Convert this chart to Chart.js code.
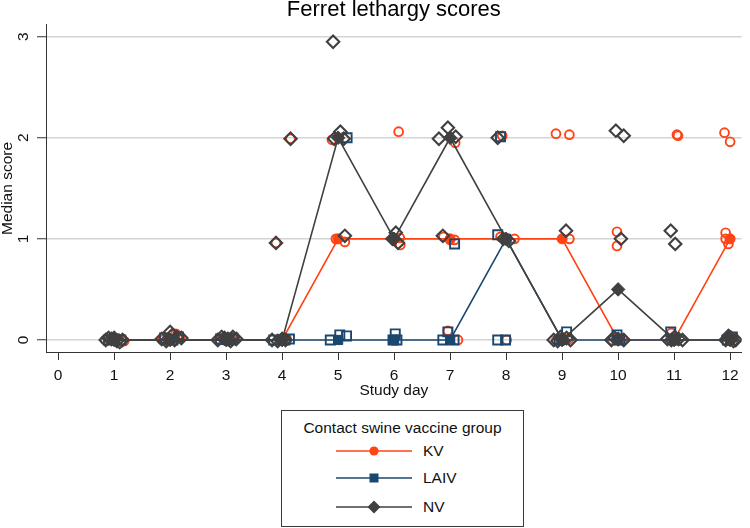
<!DOCTYPE html>
<html>
<head>
<meta charset="utf-8">
<title>Ferret lethargy scores</title>
<script src="https://cdn.jsdelivr.net/npm/chart.js@4.4.1/dist/chart.umd.min.js"></script>
<style>
  body { margin: 0; background: #fff; font-family: "Liberation Sans", Arial, sans-serif; }
  #wrap { position: relative; width: 750px; height: 528px; }
  #chartBox { position: absolute; left: 0; top: 0; width: 750px; height: 402px; }
  #legend { position: absolute; left: 281px; top: 410px; width: 241px; height: 115px;
            border: 1px solid #3a3a3a; color: #111; font-size: 15.5px; }
  #legend .ttl { position: absolute; left: 0; width: 100%; top: 8px; text-align: center; line-height: 18px; }
  #legend .sym { position: absolute; left: 54px; }
  #legend .lbl { position: absolute; left: 141px; line-height: 18px; }
</style>
</head>
<body>
<div id="wrap">
  <div id="chartBox"><canvas id="chart"></canvas></div>
  <div id="legend"></div>
</div>
<script>
// study days and axis ticks
const days = [1, 2, 3, 4, 5, 6, 7, 8, 9, 10, 11, 12];
const xTicks = [0, 1, 2, 3, 4, 5, 6, 7, 8, 9, 10, 11, 12];
const yTicks = [0, 1, 2, 3];

// median score per group
const kvMedian = [0, 0, 0, 0, 1, 1, 1, 1, 1, 0, 0, 1];
const laivMedian = [0, 0, 0, 0, 0, 0, 0, 1, 0, 0, 0, 0];
const nvMedian = [0, 0, 0, 0, 2, 1, 2, 1, 0, 0.5, 0, 0];

// individual ferret scores (jittered as in the figure)
const kvX = [0.84, 1.08, 1.18, 0.96, 1.86, 2.1, 2.18, 1.97, 2.88, 3.1, 3.16, 2.98,
  3.89, 4.15, 3.95, 4.08,
  4.89, 5.12, 4.96, 6.08, 6.1, 6.11, 6.88, 7.0, 7.08, 6.96, 7.14, 7.09,
  7.93, 7.9, 8.15, 8.01, 8.89, 9.13, 9.13, 8.9, 9.12, 9.98, 9.98, 9.9, 10.08,
  11.05, 11.07, 10.95, 11.0, 11.9, 12.0, 11.92, 11.92, 11.97, 12.0];
const kvY = [0, 0.01, -0.01, 0.02, 0, 0.06, 0.02, -0.01, 0, 0.01, 0, 0.02,
  0.96, 1.99, 0, 0.01,
  1.98, 0.97, 1.0, 2.06, 1.01, 0.94, 1.02, 0.99, 0.99, 0.09, 0, 1.95,
  2.02, 1.02, 1.0, 0, 2.04, 2.03, 1.0, 0, 0.01, 1.07, 0.93, 0, 0.01,
  2.03, 2.02, 0.07, 0, 2.05, 1.96, 1.06, 1.0, 0.95, -0.01];

const laivX = [0.9, 1.0, 1.12, 1.9, 2.05, 2.15, 2.9, 3.05, 3.12, 3.85, 4.13, 4.05,
  4.86, 5.03, 5.15, 5.16, 5.98, 6.02, 6.05, 6.87, 6.96, 7.07, 7.08,
  7.85, 7.99, 7.9, 7.85, 9.08, 8.95, 9.98, 10.03, 10.94, 11.02, 11.95, 12.04];
const laivY = [0, 0.01, 0, 0.02, 0, 0.03, 0.01, 0, 0.02, 0, 0.01, 0,
  0, 0.05, 0.04, 2.0, 0, 0.06, 0, 0, 0.08, 0, 0.95,
  0, 0, 2.01, 1.04, 0.08, 0, 0.05, 0, 0.08, 0, 0, 0.03];

const nvX = [0.85, 0.95, 1.05, 1.15, 1.0, 0.9, 1.1, 1.85, 2.0, 2.08, 2.2, 1.93, 2.12, 2.04,
  2.85, 2.97, 3.08, 3.18, 2.92, 3.03, 3.12,
  3.89, 4.15, 3.82, 4.0, 3.92, 4.06, 4.91, 4.93, 5.04, 5.1, 5.12, 6.03, 5.97, 6.07,
  6.96, 6.8, 7.1, 6.87, 7.85, 7.95, 8.05, 9.07, 8.85, 9.0, 9.15, 8.92, 9.08, 8.97,
  9.96, 10.1, 10.05, 9.88, 10.1, 10.0, 9.94, 10.94, 11.02, 10.95, 11.08, 11.15, 10.88, 11.01,
  11.92, 12.02, 12.1, 11.97, 12.06, 11.99];
const nvY = [0, 0.01, -0.01, 0, 0.02, 0.02, -0.02, 0.01, 0.08, 0, 0.02, -0.01, 0.03, 0.05,
  0, 0.02, -0.01, 0.01, 0.03, 0.01, 0.03,
  0.96, 1.99, 0, 0.01, -0.01, 0, 2.95, 1.99, 2.06, 1.99, 1.03, 1.06, 1.0, 0.96,
  2.1, 1.99, 2.01, 1.03, 2.0, 1.0, 0.98, 1.08, 0, 0.01, 0, -0.01, 0.02, 0.03,
  2.07, 2.02, 1.0, 0, 0, 0.01, 0.02, 1.08, 0.95, 0, 0.01, 0, 0.01, 0.03,
  0, 0.02, 0, 0.04, -0.01, 0.03];

const kvColor = "#ff4314";
const laivColor = "#1a476f";
const nvColor = "#404040";
const textColor = "#111";
const fontFamily = '"Liberation Sans", Arial, sans-serif';

Chart.defaults.font.family = fontFamily;

const medianPoints = ys => days.map((d, i) => ({ x: d, y: ys[i] }));
const scorePoints = (xs, ys) => xs.map((x, i) => ({ x: x, y: ys[i] }));

function medianSet(label, ys, color, style, radius, order) {
    return {
        label: label,
        data: medianPoints(ys),
        borderColor: color,
        backgroundColor: color,
        borderWidth: 1.6,
        pointStyle: style,
        pointRadius: radius,
        pointBorderWidth: 1,
        showLine: true,
        inLegend: true,
        order: order
    };
}

function scoreSet(label, xs, ys, color, style, radius, width, order) {
    return {
        label: label,
        data: scorePoints(xs, ys),
        borderColor: color,
        backgroundColor: "rgba(255,255,255,0)",
        pointStyle: style,
        pointRadius: radius,
        pointBorderWidth: width,
        showLine: false,
        order: order
    };
}

// y tick labels turned upright like the original (read bottom to top)
const rotatedYLabels = {
    id: "rotatedYLabels",
    afterDraw(chart) {
        const scale = chart.scales.y;
        const ctx = chart.ctx;
        ctx.save();
        ctx.fillStyle = textColor;
        ctx.font = "15.5px " + fontFamily;
        ctx.textAlign = "center";
        ctx.textBaseline = "middle";
        scale.ticks.forEach(t => {
            ctx.save();
            ctx.translate(24, scale.getPixelForValue(t.value));
            ctx.rotate(-Math.PI / 2);
            ctx.fillText(String(t.value), 0, 0);
            ctx.restore();
        });
        ctx.restore();
    }
};

const chart = new Chart(document.getElementById("chart"), {
    type: "line",
    data: {
        datasets: [
            medianSet("KV", kvMedian, kvColor, "circle", 5, 4),
            medianSet("LAIV", laivMedian, laivColor, "rect", 6.5, 2),
            medianSet("NV", nvMedian, nvColor, "rectRot", 6.8, 0),
            scoreSet("KV scores", kvX, kvY, kvColor, "circle", 4.4, 1.9, 5),
            scoreSet("LAIV scores", laivX, laivY, laivColor, "rect", 6.4, 1.9, 3),
            scoreSet("NV scores", nvX, nvY, nvColor, "rectRot", 6.2, 2.1, 1)
        ]
    },
    options: {
        responsive: true,
        maintainAspectRatio: false,
        animation: false,
        layout: { padding: { right: 1 } },
        plugins: {
            legend: { display: false },
            tooltip: { enabled: false },
            title: {
                display: true,
                text: "Ferret lethargy scores",
                fullSize: false,
                color: "#000",
                font: { size: 22, weight: "normal", lineHeight: 0.86 },
                padding: { top: 0, bottom: 6 }
            }
        },
        scales: {
            x: {
                type: "linear",
                min: -0.217,
                max: 12.207,
                afterBuildTicks: s => { s.ticks = xTicks.map(v => ({ value: v })); },
                afterFit: s => { s.height = 50; },
                grid: { drawOnChartArea: false, tickLength: 8, tickColor: "#333", tickWidth: 1 },
                border: { color: "#333", width: 1 },
                ticks: { color: textColor, font: { size: 15.5 }, padding: 6, maxRotation: 0, autoSkip: false },
                title: {
                    display: true, text: "Study day", color: textColor,
                    font: { size: 15.5, lineHeight: 1 }, padding: { top: 0, bottom: 4 }
                }
            },
            y: {
                type: "linear",
                min: -0.119,
                max: 3.116,
                afterBuildTicks: s => { s.ticks = yTicks.map(v => ({ value: v })); },
                afterFit: s => { s.width = 46; },
                grid: { color: "#d4d4d4", lineWidth: 1.5, tickLength: 9, tickColor: "#333", tickWidth: 1 },
                border: { color: "#333", width: 1 },
                ticks: { display: false },
                title: {
                    display: true, text: "Median score", color: textColor,
                    font: { size: 15.5, lineHeight: 1 }, padding: { top: 0, bottom: 0 }
                }
            }
        }
    },
    plugins: [rotatedYLabels]
});

// legend box built from the median datasets
function symbolSvg(ds) {
    const c = ds.borderColor;
    let mark;
    if (ds.pointStyle === "circle") {
        mark = `<circle cx="38" cy="7" r="4.6" fill="${c}"/>`;
    } else if (ds.pointStyle === "rect") {
        mark = `<rect x="33.5" y="2.5" width="9" height="9" fill="${c}"/>`;
    } else {
        mark = `<polygon points="38,0.5 44.5,7 38,13.5 31.5,7" fill="${c}"/>`;
    }
    return `<svg width="76" height="14"><line x1="0" y1="7" x2="76" y2="7" stroke="${c}" stroke-width="1.5"/>${mark}</svg>`;
}

function buildLegend(chart) {
    const box = document.getElementById("legend");
    box.innerHTML = '<div class="ttl">Contact swine vaccine group</div>';
    const rowCenters = [41, 68, 97];
    chart.data.datasets.filter(ds => ds.inLegend).forEach((ds, i) => {
        const sym = document.createElement("div");
        sym.className = "sym";
        sym.style.top = (rowCenters[i] - 8) + "px";
        sym.innerHTML = symbolSvg(ds);
        box.appendChild(sym);

        const lbl = document.createElement("div");
        lbl.className = "lbl";
        lbl.style.top = (rowCenters[i] - 10) + "px";
        lbl.textContent = ds.label;
        box.appendChild(lbl);
    });
}

buildLegend(chart);
</script>
</body>
</html>
